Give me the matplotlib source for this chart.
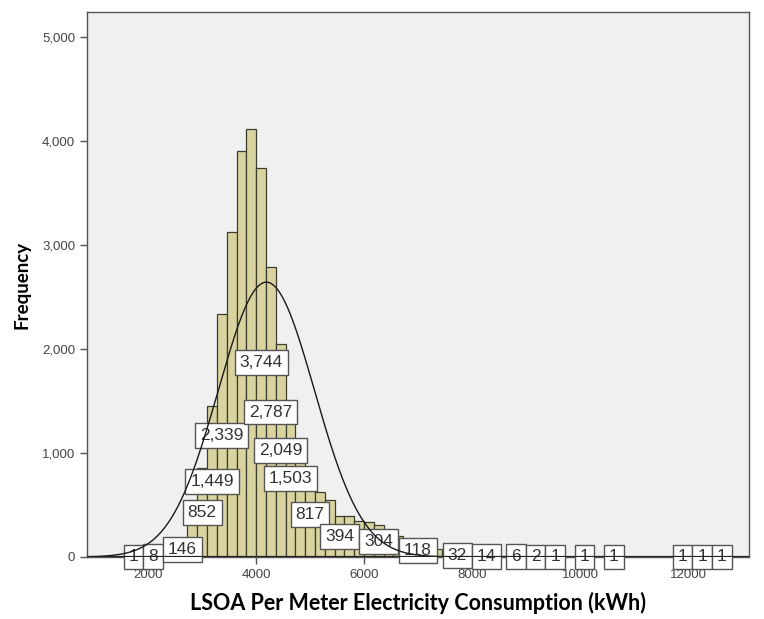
import matplotlib
matplotlib.use("Agg")
import matplotlib.pyplot as plt
import numpy as np
from matplotlib.ticker import FuncFormatter

# histogram bins (kWh): centre of the first bin and the common width
first_centre = 1731.5
bin_width = 181.5
counts = [1, 0, 8, 25, 60, 146, 420, 852, 1449, 2339, 3122, 3904, 4112, 3744,
          2787, 2049, 1503, 1120, 817, 625, 548, 394, 390, 350, 340, 304, 240,
          200, 160, 118, 95, 80, 50, 32, 26, 20, 14, 9, 7, 6, 4, 2, 0, 1, 0, 0,
          1, 0, 0, 1, 0, 0, 0, 0, 0, 0, 1, 0, 1, 0, 1]
# bins whose count is printed
labelled = [0, 2, 5, 7, 8, 9, 13, 14, 15, 16, 18, 21, 25, 29, 33, 36, 39, 41,
            43, 46, 49, 56, 58, 60]

# fitted normal curve
curve_mean = 4190
curve_sd = 890

x_ticks = [2000, 4000, 6000, 8000, 10000, 12000]
y_ticks = [0, 1000, 2000, 3000, 4000, 5000]

counts = np.array(counts)
centres = first_centre + bin_width * np.arange(len(counts))

fig = plt.figure(figsize=(7.64, 6.19), dpi=100)
ax = fig.add_axes([0.1139, 0.1002, 0.8665, 0.8804])
ax.set_facecolor("#f0f0f0")

ax.bar(centres, counts, width=bin_width, color="#d9d39f",
       edgecolor="#3d3d2e", linewidth=0.9, zorder=2)

for i in labelled:
    ax.text(centres[i], counts[i] / 2, f"{counts[i]:,}", ha="center", va="center",
            fontsize=12.5, family="Liberation Sans", color="#333333", zorder=3,
            bbox=dict(boxstyle="square,pad=0.28", fc="white", ec="#555555", lw=1))

xs = np.linspace(870, 13125, 600)
n_total = counts.sum()
pdf = np.exp(-0.5 * ((xs - curve_mean) / curve_sd) ** 2) / (curve_sd * np.sqrt(2 * np.pi))
ax.plot(xs, n_total * bin_width * pdf, color="#1a1a1a", lw=1.0, zorder=4)
ax.axhline(0, color="#222222", lw=1.6, zorder=5)

ax.set_xlim(870, 13125)
ax.set_ylim(0, 5240)
ax.set_xticks(x_ticks)
ax.set_yticks(y_ticks)
ax.yaxis.set_major_formatter(FuncFormatter(lambda v, _: f"{int(v):,}"))
ax.tick_params(axis="both", direction="out", length=5, width=1, color="#555555",
               labelsize=9.5, labelcolor="#444444")
for lab in ax.get_xticklabels() + ax.get_yticklabels():
    lab.set_family("Liberation Sans")
for s in ax.spines.values():
    s.set_color("#555555")
    s.set_linewidth(1)

ax.set_xlabel("LSOA Per Meter Electricity Consumption (kWh)", fontsize=15.5,
              fontweight="bold", family="Lato", labelpad=8)
ax.set_ylabel("Frequency", fontsize=13.5, fontweight="bold", family="Lato",
              labelpad=8)

fig.savefig("out.png", dpi=100)
